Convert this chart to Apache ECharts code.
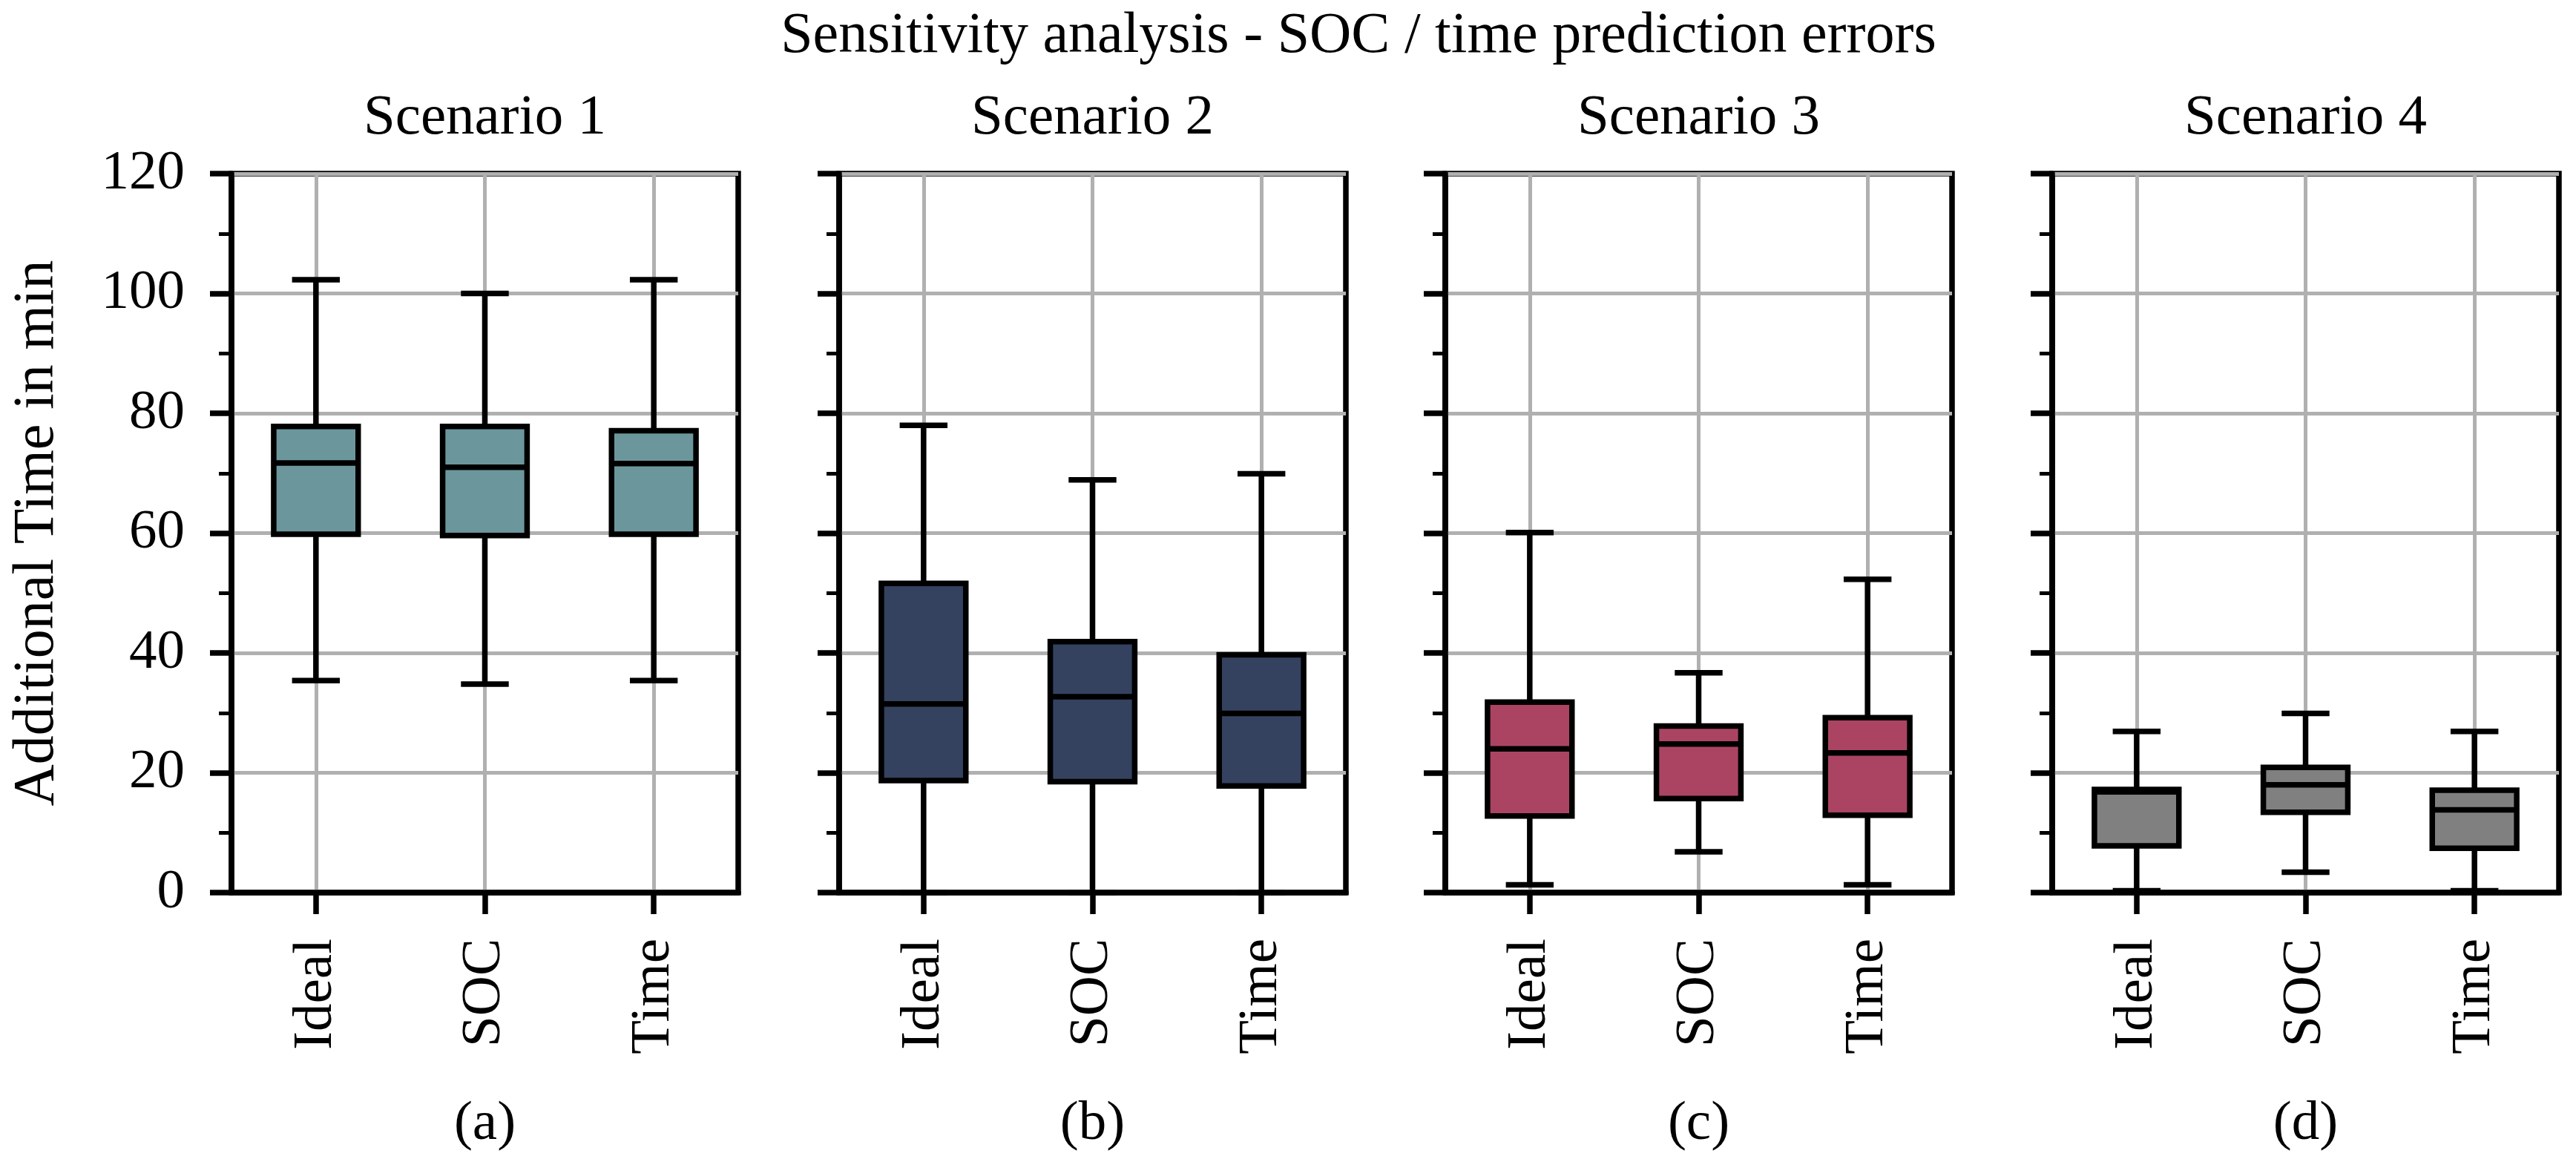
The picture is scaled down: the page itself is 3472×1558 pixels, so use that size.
<!DOCTYPE html>
<html><head><meta charset="utf-8">
<script src="https://cdn.jsdelivr.net/npm/echarts@6/dist/echarts.min.js"></script>
<style>html,body{margin:0;padding:0;background:#fff}#c{width:3472px;height:1558px}</style>
</head><body><div id="c"></div>
<script>
const categories = ['Ideal', 'SOC', 'Time'];
const scenarioNames = ['Scenario 1', 'Scenario 2', 'Scenario 3', 'Scenario 4'];
const panelLabels = ['(a)', '(b)', '(c)', '(d)'];
const mainTitle = 'Sensitivity analysis - SOC / time prediction errors';
const yAxisName = 'Additional Time in min';
const yMin = 0, yMax = 120, yStep = 20;
// [lower whisker, Q1, median, Q3, upper whisker] for Ideal, SOC, Time
const scenario1 = [[35.4, 59.8, 71.7, 77.8, 102.3], [34.8, 59.6, 71.0, 77.8, 100.0], [35.4, 59.8, 71.6, 77.1, 102.3]];
const scenario2 = [[0.0, 18.7, 31.5, 51.6, 78.0], [0.0, 18.5, 32.7, 41.9, 68.9], [0.0, 17.8, 29.9, 39.7, 69.9]];
const scenario3 = [[1.3, 12.8, 24.0, 31.8, 60.1], [6.8, 15.7, 24.8, 27.8, 36.7], [1.3, 12.9, 23.3, 29.2, 52.3]];
const scenario4 = [[0.3, 7.8, 16.8, 17.2, 26.9], [3.4, 13.4, 18.0, 20.9, 29.9], [0.3, 7.4, 13.8, 17.1, 26.9]];
const scenarios = [scenario1, scenario2, scenario3, scenario4];
const boxColors = ['#6b979c', '#344260', '#ab4463', '#808080'];

const FONT = 'Liberation Serif';
const FS = 75;
const gridLefts = [312, 1131, 1948, 2766];
const gridW = 683, gridTop = 234, gridH = 976;
const LW = 7.5;

function renderBox(color) {
  return function (params, api) {
    const c = api.value(0);
    const band = api.size([1, 0])[0];
    const half = band * 0.25, capHalf = band * 0.125;
    const p = [1, 2, 3, 4, 5].map(k => api.coord([c, api.value(k)]));
    const x = p[0][0];
    const ls = { stroke: '#000', lineWidth: LW, lineCap: 'butt' };
    const cs = { stroke: '#000', lineWidth: LW, lineCap: 'square' };
    return {
      type: 'group',
      children: [
        { type: 'line', shape: { x1: x, y1: p[1][1], x2: x, y2: p[0][1] }, style: ls },
        { type: 'line', shape: { x1: x, y1: p[3][1], x2: x, y2: p[4][1] }, style: ls },
        { type: 'line', shape: { x1: x - capHalf, y1: p[0][1], x2: x + capHalf, y2: p[0][1] }, style: cs },
        { type: 'line', shape: { x1: x - capHalf, y1: p[4][1], x2: x + capHalf, y2: p[4][1] }, style: cs },
        { type: 'rect', shape: { x: x - half, y: p[3][1], width: 2 * half, height: p[1][1] - p[3][1] },
          style: { fill: color, stroke: '#000', lineWidth: LW, lineJoin: 'miter' } },
        { type: 'line', shape: { x1: x - half, y1: p[2][1], x2: x + half, y2: p[2][1] }, style: ls }
      ]
    };
  };
}

const grids = [], xAxes = [], yAxes = [], series = [], graphics = [];
scenarios.forEach((sc, i) => {
  grids.push({ left: gridLefts[i], top: gridTop, width: gridW, height: gridH, show: true,
    borderColor: '#000', borderWidth: LW, backgroundColor: 'transparent' });
  xAxes.push({
    type: 'category', gridIndex: i, data: categories, boundaryGap: true,
    name: panelLabels[i], nameLocation: 'middle', nameGap: 275,
    nameTextStyle: { fontFamily: FONT, fontSize: FS, color: '#000' },
    axisLine: { show: true, lineStyle: { color: '#000', width: LW } },
    axisTick: { show: true, alignWithLabel: true, length: 29, lineStyle: { color: '#000', width: LW } },
    axisLabel: { rotate: 90, margin: 62, fontFamily: FONT, fontSize: FS, color: '#000' },
    splitLine: { show: true, alignWithLabel: true, lineStyle: { color: '#b0b0b0', width: 5 } }
  });
  yAxes.push({
    type: 'value', gridIndex: i, min: yMin, max: yMax, interval: yStep,
    name: i === 0 ? yAxisName : '', nameLocation: 'middle', nameGap: 222,
    nameTextStyle: { fontFamily: FONT, fontSize: 78, color: '#000' },
    axisLine: { show: true, lineStyle: { color: '#000', width: LW } },
    axisTick: { show: true, length: 29, lineStyle: { color: '#000', width: LW } },
    minorTick: { show: true, splitNumber: 2, length: 17, lineStyle: { color: '#000', width: 5 } },
    axisLabel: { show: i === 0, margin: 63, fontFamily: FONT, fontSize: FS, color: '#000' },
    splitLine: { show: true, lineStyle: { color: '#b0b0b0', width: 5 } }
  });
  series.push({
    type: 'custom', xAxisIndex: i, yAxisIndex: i, clip: false, z: 5,
    renderItem: renderBox(boxColors[i]),
    encode: { x: 0, y: [1, 2, 3, 4, 5] },
    data: sc.map((s, j) => [j].concat(s))
  });
  graphics.push({ type: 'text', x: gridLefts[i] + gridW / 2, y: 160,
    style: { text: scenarioNames[i], font: '77px "' + FONT + '"', fill: '#000', textAlign: 'center', textVerticalAlign: 'middle' } });
});
graphics.push({ type: 'text', x: 1831, y: 50,
  style: { text: mainTitle, font: '78px "' + FONT + '"', fill: '#000', textAlign: 'center', textVerticalAlign: 'middle' } });

const chart = echarts.init(document.getElementById('c'), null, { renderer: 'canvas' });
chart.setOption({
  backgroundColor: '#fff',
  animation: false,
  grid: grids, xAxis: xAxes, yAxis: yAxes, series: series, graphic: graphics
});
</script></body></html>
